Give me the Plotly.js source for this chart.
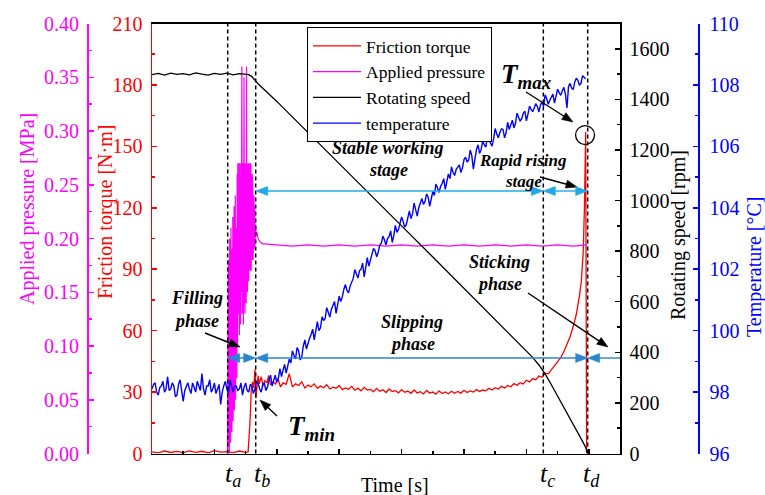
<!DOCTYPE html>
<html><head><meta charset="utf-8">
<script src="https://cdn.plot.ly/plotly-3.0.1.min.js"></script>
<style>html,body{margin:0;padding:0;background:#fff}#c{width:765px;height:495px}</style>
</head><body><div id="c"></div>
<script>
// ---------------- data ----------------
// phase boundaries (s)
const tA = 1.213, tB = 1.662, tC = 6.271, tD = 6.982;

// Friction torque [N·m]
const torqueT = [0,0.1,0.2,0.3,0.4,0.5,0.6,0.7,0.8,0.9,1.0,1.1,1.2,1.3,1.4,1.5,1.54,1.57,1.59,1.61,1.63,1.65,1.665,1.68,1.70,1.72,1.75,1.78,1.81,1.84,1.87,1.90,1.94,1.98,2.02,2.06,2.10,2.15,2.20,2.25,2.30,2.35,2.40,2.45,2.50,2.55,2.60,2.65,2.7,2.75,2.8,2.85,2.9,2.95,3.0,3.05,3.1,3.15,3.2,3.25,3.3,3.35,3.4,3.45,3.5,3.55,3.6,3.65,3.7,3.75,3.8,3.85,3.9,3.95,4.0,4.05,4.1,4.15,4.2,4.25,4.3,4.35,4.4,4.45,4.5,4.55,4.6,4.65,4.7,4.75,4.8,4.85,4.9,4.95,5.0,5.05,5.1,5.15,5.2,5.25,5.3,5.35,5.4,5.45,5.5,5.55,5.6,5.65,5.7,5.75,5.8,5.85,5.9,5.95,6.0,6.05,6.1,6.15,6.2,6.25,6.3,6.35,6.4,6.45,6.5,6.55,6.6,6.65,6.7,6.75,6.8,6.85,6.88,6.91,6.93,6.95,6.965];
const torqueV = [0.8,0.3,1.2,0.5,1.0,0.4,1.3,0.6,1.1,0.3,1.4,0.7,0.9,0.4,1.2,0.6,0.8,15,31,35,32,41,27,33,38,34,37.5,33,35.5,34.5,38,33.5,35,34,36.5,32.5,34.5,33.8,39,32.5,34,33.2,35,32,33.4,32.6,34,31.8,32.9,32.1,33.6,31.5,32.4,31.9,33.2,31.2,32.0,31.4,32.8,30.9,31.9,30.6,32.3,31.0,31.3,30.2,31.8,30.4,31.1,29.8,31.5,30.3,30.7,29.6,31.2,29.9,30.5,29.4,31.0,29.6,30.2,29.1,30.8,29.5,30.0,29.0,30.6,29.3,30.1,29.2,30.4,29.4,30.3,29.5,30.9,29.8,30.6,30.0,31.2,30.3,31.0,30.6,31.9,31.0,32.1,31.5,32.8,32.0,33.2,32.6,34.2,33.3,34.6,34.0,35.8,35.0,36.6,36.0,37.8,37.2,39.2,38.9,40.8,42.6,44.5,46.8,49.7,53,57,62,68,77,84,98,120,157,0];

// Applied pressure [MPa]
const pressT = [1.210,1.215,1.220,1.225,1.230,1.235,1.240,1.245,1.250,1.255,1.260,1.265,1.270,1.275,1.280,1.285,1.290,1.295,1.300,1.305,1.310,1.315,1.320,1.325,1.330,1.335,1.340,1.345,1.350,1.355,1.360,1.365,1.370,1.375,1.380,1.385,1.390,1.395,1.400,1.405,1.410,1.415,1.420,1.425,1.430,1.435,1.440,1.445,1.450,1.455,1.460,1.465,1.470,1.475,1.480,1.485,1.490,1.495,1.500,1.505,1.510,1.515,1.520,1.525,1.530,1.535,1.540,1.545,1.550,1.555,1.560,1.565,1.570,1.575,1.580,1.585,1.590,1.595,1.600,1.605,1.610,1.615,1.620,1.625,1.630,1.635,1.640,1.645,1.650,1.660,1.670,1.680,1.700,1.730,1.770,1.80,2.00,2.25,2.50,2.75,3.00,3.25,3.50,3.75,4.00,4.25,4.50,4.75,5.00,5.25,5.50,5.75,6.00,6.25,6.50,6.75,6.965];
const pressV = [0,0.14,0.00,0.18,0.01,0.12,0.00,0.20,0.02,0.16,0.01,0.21,0.03,0.15,0.02,0.19,0.04,0.22,0.03,0.17,0.05,0.23,0.04,0.20,0.06,0.24,0.05,0.21,0.08,0.25,0.07,0.26,0.10,0.27,0.12,0.25,0.13,0.27,0.11,0.26,0.14,0.27,0.12,0.25,0.15,0.27,0.36,0.13,0.26,0.14,0.27,0.12,0.25,0.35,0.15,0.26,0.13,0.27,0.16,0.25,0.14,0.36,0.16,0.27,0.15,0.26,0.17,0.27,0.16,0.25,0.18,0.27,0.17,0.26,0.18,0.27,0.17,0.25,0.18,0.26,0.19,0.25,0.18,0.24,0.19,0.24,0.19,0.23,0.193,0.213,0.203,0.206,0.200,0.197,0.195,0.195,0.194,0.193,0.194,0.193,0.194,0.193,0.194,0.193,0.194,0.193,0.194,0.193,0.194,0.193,0.194,0.193,0.194,0.193,0.194,0.193,0.194];

// Rotating speed [rpm]
const speedT = [0,0.1,0.2,0.3,0.4,0.5,0.6,0.7,0.8,0.9,1.0,1.1,1.2,1.3,1.4,1.5,1.55,1.6,1.65,1.7,2.0,2.5,3.0,3.5,4.0,4.5,5.0,5.5,6.0,6.1,6.2,6.3,6.4,6.5,6.6,6.7,6.8,6.9,6.95,6.98];
const speedV = [1498,1503,1496,1504,1499,1502,1497,1505,1500,1496,1503,1499,1504,1497,1502,1500,1498,1490,1476,1462,1392,1268,1146,1023,900,777,654,531,408,380,350,315,272,228,185,140,95,48,24,0];

// Temperature [°C], sampled every 0.025 s from t = 0
const tempStart = 0, tempStep = 0.025;
const tempV = [98.1,98.25,98.3,98.0,97.9,98.15,98.2,98.35,98.0,98.1,98.5,98.05,98.1,98.3,98.2,97.85,97.9,98.25,98.4,98.1,97.7,98.05,98.2,98.3,98.1,97.95,98.3,98.15,98.0,98.35,98.2,98.05,98.6,98.1,97.9,98.2,98.2,98.4,98.0,98.1,98.3,97.95,98.1,98.25,97.6,98.0,98.2,98.35,98.1,97.95,98.4,98.15,98.0,98.2,98.2,98.05,98.1,98.3,97.9,98.15,98.3,98.05,98.0,98.25,98.2,97.95,98.1,98.35,98.3,98.1,98.0,98.25,
98.30,98.05,98.16,98.40,98.55,98.20,98.38,98.55,98.32,98.45,98.76,98.50,98.71,98.90,98.62,98.80,99.07,98.95,99.34,99.20,99.08,99.45,99.34,99.05,99.15,99.50,99.70,99.40,99.59,99.75,99.87,100.05,99.70,99.95,100.29,100.00,100.09,100.45,100.33,100.40,100.75,100.60,100.44,100.70,100.81,100.95,100.56,100.80,101.12,100.95,101.10,101.35,101.50,101.30,101.23,101.45,101.61,101.70,101.99,101.85,101.71,101.95,102.00,102.20,101.75,102.05,102.38,102.10,102.30,102.45,102.68,102.60,102.40,102.55,102.79,102.85,103.08,102.95,102.79,103.00,103.07,103.25,102.87,103.10,103.43,103.20,103.29,103.50,103.70,103.55,103.37,103.45,103.70,103.90,103.65,103.80,104.15,103.95,103.73,104.00,104.15,104.30,104.11,104.20,104.45,104.35,104.05,104.25,104.53,104.40,104.77,104.65,104.50,104.70,104.79,104.95,104.60,104.85,105.10,104.95,105.33,105.15,105.05,105.25,105.31,105.40,105.15,105.30,105.57,105.65,105.49,105.55,105.88,105.70,105.26,105.60,105.90,106.05,105.77,105.90,106.18,106.05,105.98,106.30,106.20,106.10,106.01,106.25,106.58,106.40,106.28,106.45,106.57,106.55,106.28,106.45,106.78,106.55,106.70,106.85,106.60,106.75,107.08,106.95,106.82,106.90,107.08,107.15,106.83,107.05,107.31,107.20,107.13,107.25,107.39,107.30,107.12,107.35,107.44,107.30,107.68,107.55,107.37,107.50,107.60,107.70,107.41,107.60,107.86,107.75,107.66,107.80,107.92,107.70,107.25,107.95,108.05,107.90,107.85,108.10,108.22,108.15,108.00,108.05,108.30,108.25,108.20];

const seriesNames = ['Friction torque','Applied pressure','Rotating speed','temperature'];

// ---------------- figure ----------------
const W = 765, H = 495;
const F = 'Liberation Serif, Times New Roman, serif';
const L = 152, R = 620, T = 23.5, B = 453.5, XMAX = 7.5;
const PX = x => x / W, PY = y => 1 - y / H;
const tPix = t => L + t * (R - L) / XMAX;   // pixel column of a time, for decorations only

const traces = [
  {x: torqueT, y: torqueV, name: seriesNames[0], type: 'scatter', mode: 'lines', line: {color: '#ff0000', width: 1.3}, yaxis: 'y'},
  {x: pressT, y: pressV, name: seriesNames[1], type: 'scatter', mode: 'lines', line: {color: '#ff00ff', width: 1.2}, yaxis: 'y2'},
  {x: speedT, y: speedV, name: seriesNames[2], type: 'scatter', mode: 'lines', line: {color: '#000000', width: 1.3}, yaxis: 'y3'},
  {x0: tempStart, dx: tempStep, y: tempV, name: seriesNames[3], type: 'scatter', mode: 'lines', line: {color: '#0000ff', width: 1.4}, yaxis: 'y4'}
];

function yax(color, range, dtick, minor, extra) {
  return Object.assign({
    range: range, dtick: dtick, tick0: range[0], showgrid: false, zeroline: false,
    showline: true, linecolor: color, linewidth: 1.5,
    ticks: 'inside', ticklen: 5, tickwidth: 1.5, tickcolor: color,
    minor: {ticks: 'inside', dtick: minor, ticklen: 3, tickwidth: 1.5, tickcolor: color},
    tickfont: {family: F, size: 20, color: color}
  }, extra);
}

function txt(s, x, y, size, color, extra, fontExtra) {
  return Object.assign({text: s, xref: 'paper', yref: 'paper', x: PX(x), y: PY(y),
    xanchor: 'center', yanchor: 'middle', showarrow: false,
    font: Object.assign({family: F, size: size, color: color || '#000'}, fontExtra || {})}, extra || {});
}
const BI = {weight: 'bold', style: 'italic'}, IT = {style: 'italic'};
const note = (s, x, y, size) => txt(s, x, y, size, '#000', null, BI);

// arrow drawn as shapes (line + filled triangular heads), pixel inputs
function head(hx, hy, ux, uy, len, hw, color) {
  const bx = hx - ux * len, by = hy - uy * len, nx = -uy, ny = ux;
  const p = [[hx, hy], [bx + nx * hw, by + ny * hw], [bx - nx * hw, by - ny * hw]];
  return {type: 'path', xref: 'paper', yref: 'paper', layer: 'above',
    path: 'M' + p.map(q => PX(q[0]).toFixed(5) + ',' + PY(q[1]).toFixed(5)).join('L') + 'Z',
    fillcolor: color, line: {color: color, width: 0.6}};
}
function arrowShapes(tx, ty, hx, hy, color, both, len, hw, lw) {
  const d = Math.hypot(hx - tx, hy - ty), ux = (hx - tx) / d, uy = (hy - ty) / d;
  const out = [head(hx, hy, ux, uy, len, hw, color)];
  let sx = tx, sy = ty;
  if (both) { out.push(head(tx, ty, -ux, -uy, len, hw, color)); sx = tx + ux * len * 0.8; sy = ty + uy * len * 0.8; }
  out.push({type: 'line', xref: 'paper', yref: 'paper', layer: 'above',
    x0: PX(sx), y0: PY(sy), x1: PX(hx - ux * len * 0.8), y1: PY(hy - uy * len * 0.8),
    line: {color: color, width: lw}});
  return out;
}

const upC = '#23a8e6', loC = '#2a86cc';
const annotations = [
  txt('Applied pressure [MPa]', 27, 209, 20, '#ff00ff', {textangle: -90}),
  txt('Friction torque [N·m]', 105, 212, 20, '#ff0000', {textangle: -90}),
  txt('Rotating speed [rpm]', 679, 235, 20, '#000', {textangle: -90}),
  txt('Temperature [°C]', 754, 267, 20, '#0000ff', {textangle: -90}),
  txt('Time [s]', 395, 485, 20),
  txt('t<sub>a</sub>', 233, 475, 26, '#000', null, IT),
  txt('t<sub>b</sub>', 262, 475, 26, '#000', null, IT),
  txt('t<sub>c</sub>', 547, 475, 26, '#000', null, IT),
  txt('t<sub>d</sub>', 591, 475, 26, '#000', null, IT),
  note('Stable working', 388, 148, 18),
  note('stage', 388, 170, 18),
  note('Slipping', 412, 322, 18),
  note('phase', 412, 344, 18),
  note('Sticking', 499, 262, 18),
  note('phase', 499, 284, 18),
  note('Rapid rising', 523, 160, 17),
  note('stage', 523, 182, 17),
  note('Filling', 197, 298, 18),
  note('phase', 197, 321, 18),
  note('T<sub>max</sub>', 526, 76, 27),
  note('T<sub>min</sub>', 311, 428, 27)
];

const dashed = [tA, tB, tC, tD].map(t => ({type: 'line', xref: 'x', yref: 'y domain', x0: t, x1: t, y0: 0, y1: 1,
  line: {color: '#000', width: 1.5, dash: '4px,3px'}}));
let shapes = dashed.concat([
  {type: 'circle', xref: 'x', yref: 'y', xsizemode: 'pixel', ysizemode: 'pixel',
   xanchor: 6.94, yanchor: 155.5, x0: -9.5, x1: 9.5, y0: -9.5, y1: 9.5, line: {color: '#000', width: 1.3}}
]);
shapes = shapes
  .concat(arrowShapes(526, 92, 573, 122, '#000', false, 11, 4, 1.4))
  .concat(arrowShapes(277, 416, 260, 400, '#000', false, 11, 4, 1.4))
  .concat(arrowShapes(205, 333, 240, 347, '#000', false, 11, 4, 1.4))
  .concat(arrowShapes(528, 293, 608, 347, '#000', false, 11, 4, 1.4))
  .concat(arrowShapes(540, 177, 577, 187, '#000', false, 11, 4, 1.4))
  .concat(arrowShapes(tPix(tB), 191, tPix(tC), 191, upC, true, 12, 4.5, 1.4))
  .concat(arrowShapes(tPix(tC), 191, tPix(tD), 191, upC, true, 12, 4.5, 1.4))
  .concat(arrowShapes(tPix(tA), 358, tPix(tB), 358, loC, true, 12, 4.5, 1.4))
  .concat(arrowShapes(tPix(tB), 358, tPix(tD), 358, loC, true, 12, 4.5, 1.4))
  .concat(arrowShapes(R, 358, tPix(tD), 358, loC, false, 12, 4.5, 1.4));

const layout = {
  width: W, height: H, margin: {l: 0, r: 0, t: 0, b: 0},
  paper_bgcolor: '#fff', plot_bgcolor: '#fff', showlegend: true,
  xaxis: {domain: [PX(L), PX(R)], range: [0, XMAX], dtick: 1, tick0: 0, showticklabels: false,
    ticks: 'inside', ticklen: 5, tickwidth: 1.5, tickcolor: '#000',
    minor: {ticks: 'inside', dtick: 0.5, ticklen: 3, tickwidth: 1.5, tickcolor: '#000'},
    showline: true, linecolor: '#000', linewidth: 1.5, mirror: true, showgrid: false, zeroline: false},
  xaxis2: {overlaying: 'x', anchor: 'y', side: 'top', range: [0, XMAX], dtick: 1, tick0: 0, showticklabels: false,
    ticks: 'inside', ticklen: 5, tickwidth: 1.5, tickcolor: '#000', showline: false, showgrid: false, zeroline: false},
  yaxis: yax('#ff0000', [0, 210], 30, 15, {domain: [PY(B), PY(T)], anchor: 'x', side: 'left', ticklabelstandoff: 4}),
  yaxis2: yax('#ff00ff', [0, 0.4], 0.05, 0.025, {overlaying: 'y', anchor: 'free', side: 'left', position: PX(87), tickformat: '.2f', ticklabelstandoff: 4}),
  yaxis3: yax('#000000', [0, 1700], 200, 100, {overlaying: 'y', anchor: 'x', side: 'right', ticklabelstandoff: 4}),
  yaxis4: yax('#0000ff', [96, 110], 2, 1, {overlaying: 'y', anchor: 'free', side: 'right', position: PX(698), ticklabelstandoff: 6}),
  legend: {x: PX(307), y: PY(27), xanchor: 'left', yanchor: 'top', bgcolor: '#fff', bordercolor: '#000', borderwidth: 1,
    font: {family: F, size: 17.5, color: '#000'}, itemwidth: 48, tracegroupgap: 0, entrywidth: 190, entrywidthmode: 'pixels'},
  annotations: annotations, shapes: shapes
};

Plotly.newPlot('c', traces, layout, {staticPlot: true, displayModeBar: false});
</script></body></html>
